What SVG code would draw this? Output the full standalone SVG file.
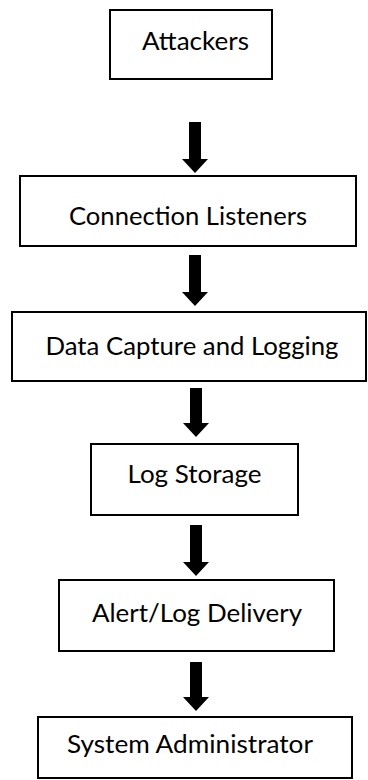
<svg xmlns="http://www.w3.org/2000/svg" width="368" height="780" viewBox="0 0 368 780">
<style>
.box{fill:#fff;stroke:#000;stroke-width:2}
.lbl{font-family:Lato,"Open Sans","Liberation Sans",sans-serif;font-size:25px;fill:#000;text-anchor:middle}
.arr{fill:#000}
</style>
<rect width="368" height="780" fill="#fff"/>
<g id="connectors">
<polygon class="arr" points="189,122 201,122 201,159 208,159 195,173 182,159 189,159"/>
<polygon class="arr" points="189,255 201,255 201,292 208,292 195,306 182,292 189,292"/>
<polygon class="arr" points="190,388 202,388 202,423 209,423 196,437 183,423 190,423"/>
<polygon class="arr" points="190,525 202,525 202,562 209,562 196,576 183,562 190,562"/>
<polygon class="arr" points="190,662 202,662 202,697 209,697 196,711 183,697 190,697"/>
</g>
<g id="attackers">
<rect class="box" x="110" y="10" width="162" height="69"/>
<text class="lbl" x="195.5" y="49.5" textLength="107" lengthAdjust="spacingAndGlyphs">Attackers</text>
</g>
<g id="connection-listeners">
<rect class="box" x="20" y="176" width="336" height="70"/>
<text class="lbl" x="188" y="225" textLength="238" lengthAdjust="spacingAndGlyphs">Connection Listeners</text>
</g>
<g id="data-capture">
<rect class="box" x="12" y="312" width="354" height="69"/>
<text class="lbl" x="192" y="355" textLength="293" lengthAdjust="spacingAndGlyphs">Data Capture and Logging</text>
</g>
<g id="log-storage">
<rect class="box" x="91" y="444" width="207" height="71"/>
<text class="lbl" x="194.5" y="483" textLength="134" lengthAdjust="spacingAndGlyphs">Log Storage</text>
</g>
<g id="alert-delivery">
<rect class="box" x="59" y="580" width="275" height="71"/>
<text class="lbl" x="197" y="621.5" textLength="210" lengthAdjust="spacingAndGlyphs">Alert/Log Delivery</text>
</g>
<g id="system-administrator">
<rect class="box" x="38" y="717" width="314" height="61"/>
<text class="lbl" x="190" y="753" textLength="246" lengthAdjust="spacingAndGlyphs">System Administrator</text>
</g>
</svg>
